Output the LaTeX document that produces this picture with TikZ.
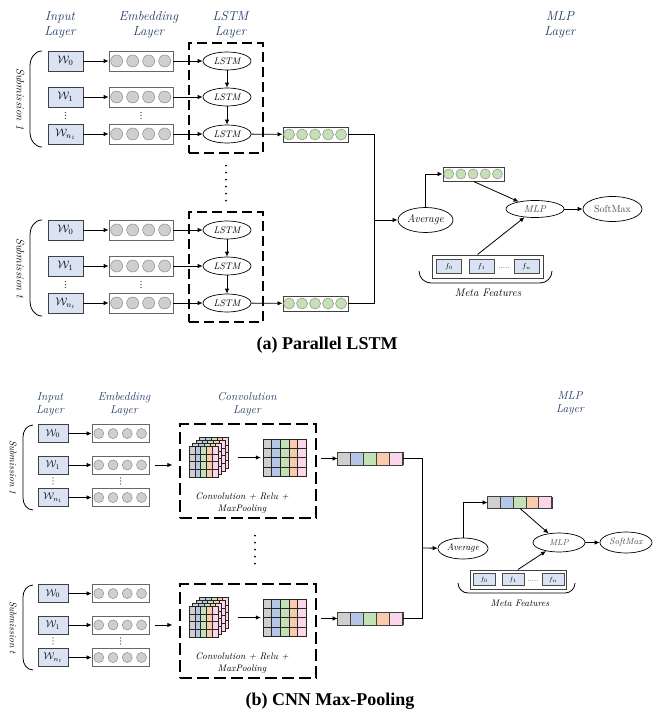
\documentclass[tikz,border=0pt]{standalone}
\usepackage{fontspec}
\newfontfamily\capfont{Liberation Serif}
\usetikzlibrary{shapes.geometric,arrows.meta}

\definecolor{navy}{HTML}{203864}
\definecolor{inblue}{HTML}{DAE3F3}
\definecolor{cgray}{HTML}{D0CECE}
\definecolor{cblue}{HTML}{B4C7E7}
\definecolor{cgreen}{HTML}{C5E0B4}
\definecolor{corange}{HTML}{F8CBAD}
\definecolor{cpink}{HTML}{FBD5E8}

\tikzset{
  hdr/.style={text=navy, align=center, font=\fontsize{13}{15}\selectfont\itshape},
  hdrb/.style={text=navy, align=center, font=\fontsize{11.5}{13.5}\selectfont\itshape},
  wbox/.style={draw=black!75, line width=0.9pt, fill=inblue, minimum width=35pt, minimum height=20pt, inner sep=0pt, font=\fontsize{11}{11}\selectfont},
  wboxb/.style={wbox, minimum width=30pt, minimum height=18pt, font=\fontsize{10}{10}\selectfont},
  embox/.style={draw=black!60, line width=0.7pt, minimum width=64pt, minimum height=20pt, inner sep=0pt},
  emboxb/.style={embox, minimum width=57pt, minimum height=18pt},
  bead/.style={draw=black!45, fill=cgray, line width=0.5pt},
  gbead/.style={draw=black!45, fill=cgreen, line width=0.5pt},
  cellbox/.style={draw=black!85, line width=0.5pt},
  lstm/.style={ellipse, draw, line width=0.7pt, minimum width=48pt, minimum height=18pt, inner sep=0pt, font=\fontsize{9.5}{9.5}\selectfont\itshape},
  layerbox/.style={draw, line width=1.3pt, dash pattern=on 10pt off 5pt, minimum width=74pt, minimum height=110pt, inner sep=0pt},
  convbox/.style={draw, line width=1.3pt, dash pattern=on 12pt off 5pt, minimum width=136pt, minimum height=94pt, inner sep=0pt},
  convtext/.style={align=center, font=\fontsize{9.5}{12}\selectfont\itshape},
  vec/.style={draw=black!75, line width=0.9pt, minimum width=65pt, minimum height=15pt, inner sep=0pt},
  vecb/.style={draw=black!75, line width=0.9pt, minimum width=65pt, minimum height=12pt, inner sep=0pt},
  oval/.style={ellipse, draw, line width=0.7pt, inner sep=0pt},
  feat/.style={draw=black!70, line width=0.8pt, fill=inblue, inner sep=0pt, minimum width=25pt, minimum height=14pt, font=\fontsize{7}{7}\selectfont},
  featb/.style={feat, minimum width=22pt, minimum height=12pt, font=\fontsize{6.5}{6.5}\selectfont},
  metabox/.style={draw=black!75, line width=1pt, minimum width=111pt, minimum height=23pt, inner sep=0pt},
  arr/.style={-{Latex[length=5pt,width=4.5pt]}, line width=0.8pt},
  link/.style={line width=0.8pt},
  subname/.style={rotate=-90, font=\fontsize{11}{11}\selectfont\itshape},
  gapdots/.style={line width=2pt, line cap=round, dash pattern=on 0pt off 7pt},
  bracket/.style={line width=0.8pt},
  vdotsnode/.style={inner sep=0pt, font=\fontsize{7}{7}\selectfont},
}

% three small dots stacked at a coordinate
\newcommand{\colondots}[1]{%
  \foreach \d in {-3,0,3}
    \fill[black!80] ([yshift=\d pt]#1) circle (0.55pt);
}
% circles inside a box: node, count, pitch, radius, style
\newcommand{\beads}[5]{%
  \foreach \i in {1,...,#2}
    \draw[#5] ([xshift={(\i-0.5)*#3}]#1.west) circle (#4);
}
% coloured cells inside a vector box: node, pitch
\newcommand{\colcells}[2]{%
  \foreach \col [count=\i] in {cgray,cblue,cgreen,corange,cpink}
    \draw[cellbox, draw=black!75, line width=0.8pt, fill=\col] ([xshift={(\i-1)*#2}]#1.south west) rectangle ([xshift={\i*#2}]#1.north west);
}
% feature map: x, y, cell width, cell height
\newcommand{\featgrid}[4]{%
  \foreach \col [count=\c from 0] in {cgray,cblue,cgreen,corange,cpink}
    \foreach \r in {0,...,3}
      \draw[cellbox, fill=\col] ({#1+\c*#3},{#2+\r*#4}) rectangle ++(#3,#4);
}
% stack of feature maps: x, y of the front one
\newcommand{\featcube}[2]{%
  \foreach \k in {3,2,1,0}
    {\featgrid{#1+\k*3.5}{#2-\k*3}{5.8}{7.75}}
}

\begin{document}
\begin{tikzpicture}[x=1pt, y=-1pt]
  \useasboundingbox (0,0) rectangle (655,711);

  % ---------- (a) Parallel LSTM ----------
  % Layer names
  \node[hdr] (hin) at (60,24.5) {Input\\Layer};
  \node[hdr] (hemb) at (148.5,24.5) {Embedding\\Layer};
  \node[hdr] (hlstm) at (230.5,24.5) {LSTM\\Layer};
  \node[hdr] (hmlp) at (560,24.5) {MLP\\Layer};

  % Submissions
  \foreach \s/\dy in {1/0,t/169} {
    \node[wbox] (w\s a) at (65.5,61+\dy) {$\mathcal{W}_0$};
    \node[wbox] (w\s b) at (65.5,97+\dy) {$\mathcal{W}_1$};
    \node[wbox] (w\s c) at (65.5,134+\dy) {$\mathcal{W}_{n_{\s}}$};
    \coordinate (wd\s) at (65.5,115.5+\dy);
    \colondots{wd\s}

    \node[embox] (e\s a) at (141,61+\dy) {};
    \node[embox] (e\s b) at (141,97+\dy) {};
    \node[embox] (e\s c) at (141,134+\dy) {};
    \coordinate (ed\s) at (141,115.5+\dy);
    \colondots{ed\s}
    \beads{e\s a}{4}{16pt}{6pt}{bead}
    \beads{e\s b}{4}{16pt}{6pt}{bead}
    \beads{e\s c}{4}{16pt}{6pt}{bead}

    \node[layerbox] (lb\s) at (226,98+\dy) {};
    \node[lstm] (l\s a) at (227,61+\dy) {LSTM};
    \node[lstm] (l\s b) at (227,97+\dy) {LSTM};
    \node[lstm] (l\s c) at (227,134+\dy) {LSTM};

    \node[vec] (v\s) at (315.5,134.5+\dy) {};
    \beads{v\s}{5}{13pt}{5.5pt}{gbead}

    \draw[arr] (w\s a) -- (e\s a);
    \draw[arr] (w\s b) -- (e\s b);
    \draw[arr] (w\s c) -- (e\s c);
    \draw[arr] (e\s a) -- (l\s a);
    \draw[arr] (e\s b) -- (l\s b);
    \draw[arr] (e\s c) -- (l\s c);
    \draw[arr] (l\s a) -- (l\s b);
    \draw[arr] (l\s b) -- (l\s c);
    \draw[arr] (l\s c) -- (v\s);

    % bracket and name
    \draw[bracket] (42,51+\dy) to[out=180,in=90] (30,66+\dy) -- (30,132+\dy) to[out=-90,in=180] (42,147+\dy);
    \node[subname] (sn\s) at (20.5,99+\dy) {Submission \s};
  }
  \draw[gapdots] ([yshift=-12pt]lb1.south) -- ([yshift=10pt]lbt.north);

  % Average and MLP
  \coordinate (jn) at (374,220);
  \draw[link] (v1.east) -| (jn);
  \draw[link] (vt.east) -| (jn);
  \node[oval, minimum width=55pt, minimum height=25pt, font=\fontsize{11}{11}\selectfont\itshape] (avg) at (425.5,220) {Average};
  \draw[arr] (jn) -- (avg);
  \node[vec, minimum width=61pt, minimum height=14pt] (vavg) at (473.5,174) {};
  \beads{vavg}{5}{12.2pt}{5pt}{gbead}
  \draw[arr] (avg.north) |- (vavg.west);
  \node[oval, minimum width=58pt, minimum height=17pt, text=black!70, font=\fontsize{10}{10}\selectfont\itshape] (mlp) at (535,209) {MLP};
  \node[oval, minimum width=59pt, minimum height=25pt, text=black!70, font=\fontsize{10}{10}\selectfont] (soft) at (612.5,209) {SoftMax};
  \draw[arr] (vavg.south) -- (mlp);
  \draw[arr] (mlp) -- (soft);

  % Meta features
  \node[metabox] (meta) at (487.5,266.5) {};
  \node[feat] (fa) at (449,266.5) {$f_0$};
  \node[feat] (fb) at (481.5,266.5) {$f_1$};
  \node[vdotsnode] (fd) at (504,268) {.....};
  \node[feat] (fc) at (526.5,266.5) {$f_n$};
  \draw[arr] ([xshift=-10pt]meta.north) -- (mlp);
  \draw[bracket] (419,271) to[out=-90,in=180] (431,283) -- (540,283) to[out=0,in=-90] (552,271);
  \node[font=\fontsize{11}{11}\selectfont\itshape] (mf) at (488,293) {Meta Features};

  \node[font={\fontsize{18}{18}\selectfont\capfont\bfseries}] (capa) at (327,345) {(a) Parallel LSTM};

  % ---------- (b) CNN Max-Pooling ----------
  % Layer names
  \node[hdrb] (hinb) at (50,404) {Input\\Layer};
  \node[hdrb] (hembb) at (124,404) {Embedding\\Layer};
  \node[hdrb] (hconv) at (247,404) {Convolution\\Layer};
  \node[hdrb] (hmlpb) at (570,403) {MLP\\Layer};

  % Submissions
  \foreach \s/\dy in {1/0,t/160} {
    \node[wboxb] (bw\s a) at (53,433.5+\dy) {$\mathcal{W}_0$};
    \node[wboxb] (bw\s b) at (53,465+\dy) {$\mathcal{W}_1$};
    \node[wboxb] (bw\s c) at (53,497.5+\dy) {$\mathcal{W}_{n_{\s}}$};
    \coordinate (bwd\s) at (53,481+\dy);
    \colondots{bwd\s}

    \node[emboxb] (be\s a) at (120.5,433.5+\dy) {};
    \node[emboxb] (be\s b) at (120.5,465+\dy) {};
    \node[emboxb] (be\s c) at (120.5,497.5+\dy) {};
    \coordinate (bed\s) at (120.5,481+\dy);
    \colondots{bed\s}
    \beads{be\s a}{4}{14.25pt}{5pt}{bead}
    \beads{be\s b}{4}{14.25pt}{5pt}{bead}
    \beads{be\s c}{4}{14.25pt}{5pt}{bead}

    \draw[arr] (bw\s a) -- (be\s a);
    \draw[arr] (bw\s b) -- (be\s b);
    \draw[arr] (bw\s c) -- (be\s c);

    % convolution block
    \node[convbox] (cb\s) at (248,471+\dy) {};
    \featcube{189}{446+\dy}
    \node[inner sep=0pt, minimum width=40.5pt, minimum height=40pt] (cube\s) at (209.25,457+\dy) {};
    \featgrid{263}{439+\dy}{8.6}{9.25}
    \node[inner sep=0pt, minimum width=43pt, minimum height=37pt] (grid\s) at (284.5,457.5+\dy) {};
    \draw[arr, shorten <=8pt, shorten >=2pt] (cube\s.east |- grid\s.west) -- (grid\s.west);
    \node[convtext] (ct\s) at (242,503+\dy) {Convolution + Relu +\\MaxPooling};
    \draw[arr, shorten <=6pt, shorten >=7pt] (be\s b.east) -- (be\s b.east -| cb\s.west);

    \node[vecb] (bv\s) at (370.5,458.5+\dy) {};
    \colcells{bv\s}{13pt}
    \draw[arr, shorten <=4pt] (cb\s.east |- bv\s.west) -- (bv\s.west);

    % bracket and name
    \draw[bracket] (33,425+\dy) to[out=180,in=90] (23,437+\dy) -- (23,498+\dy) to[out=-90,in=180] (33,510+\dy);
    \node[subname, font=\fontsize{9.5}{9.5}\selectfont\itshape] (bsn\s) at (13,467.5+\dy) {Submission \s};
  }
  \draw[gapdots] ([xshift=7pt,yshift=-17pt]cb1.south) -- ([xshift=7pt,yshift=15pt]cbt.north);

  % Average and MLP
  \coordinate (jnb) at (422,548);
  \draw[link] (bv1.east) -| (jnb);
  \draw[link] (bvt.east) -| (jnb);
  \node[oval, minimum width=50pt, minimum height=21pt, font=\fontsize{9.5}{9.5}\selectfont\itshape] (bavg) at (463,548.5) {Average};
  \draw[arr] (jnb) -- (bavg);
  \node[vecb, minimum width=64pt, minimum height=11pt] (bvavg) at (520,502.5) {};
  \colcells{bvavg}{12.8pt}
  \draw[arr] (bavg.north) |- (bvavg.west);
  \node[oval, minimum width=52pt, minimum height=19pt, text=black!70, font=\fontsize{8.5}{8.5}\selectfont\itshape] (bmlp) at (559,542.5) {MLP};
  \node[oval, minimum width=52pt, minimum height=21pt, text=black!70, font=\fontsize{9}{9}\selectfont\itshape] (bsoft) at (626,542.5) {SoftMax};
  \draw[arr] (bvavg.south) -- (bmlp);
  \draw[arr] (bmlp) -- (bsoft);

  % Meta features
  \node[metabox, minimum width=96pt, minimum height=19pt] (bmeta) at (518,579.5) {};
  \node[featb] (fba) at (484,579.5) {$f_0$};
  \node[featb] (fbb) at (513,579.5) {$f_1$};
  \node[vdotsnode] (fbd) at (533,581) {.....};
  \node[featb] (fbc) at (553,579.5) {$f_n$};
  \draw[arr] (bmeta.north) -- (bmlp);
  \draw[bracket] (458,583) to[out=-90,in=180] (468,593) -- (565,593) to[out=0,in=-90] (575,583);
  \node[font=\fontsize{9.5}{9.5}\selectfont\itshape] (bmf) at (520,603) {Meta Features};

  \node[font={\fontsize{18}{18}\selectfont\capfont\bfseries}] (capb) at (330,701) {(b) CNN Max-Pooling};
\end{tikzpicture}
\end{document}
